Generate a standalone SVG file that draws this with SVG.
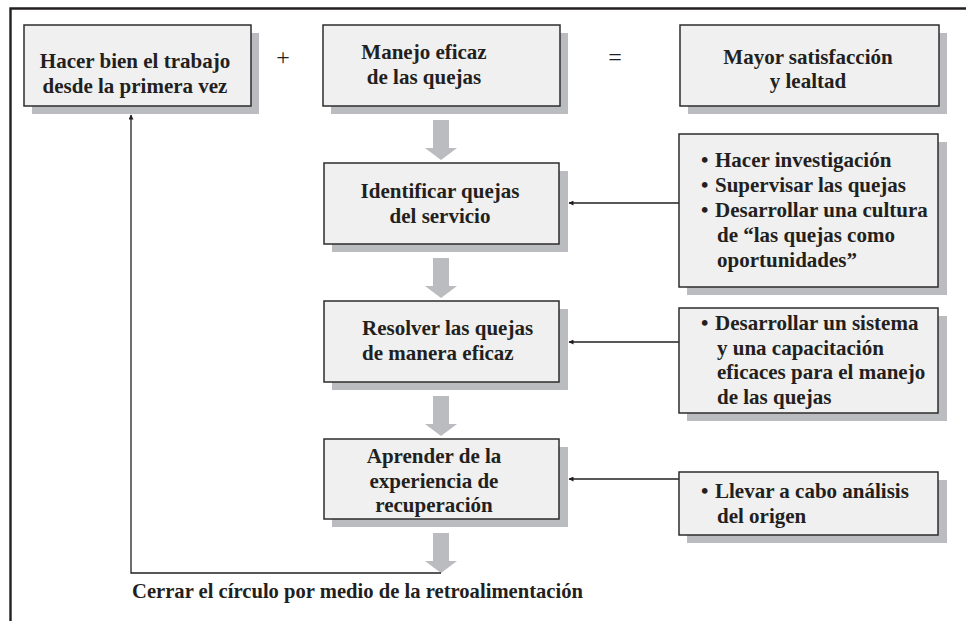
<svg xmlns="http://www.w3.org/2000/svg" width="966" height="621" viewBox="0 0 966 621">
<defs>
<style>
.box{fill:#eff0ef;stroke:#2e2c2d;stroke-width:1.5}
.sh{fill:#bbbcc0}
.t{font-family:"Liberation Serif","Times New Roman",serif;font-weight:bold;font-size:21px;fill:#231f20}
.c{text-anchor:middle}
.op{font-family:"Liberation Serif","Times New Roman",serif;font-size:24px;fill:#231f20;text-anchor:middle}
.ln{fill:none;stroke:#231f20;stroke-width:1.3}
.ga{fill:#bbbcbf}
.frame{fill:none;stroke:#231f20;stroke-width:2.4}
</style>
<marker id="ah" viewBox="0 0 10 10" refX="9" refY="5" markerWidth="7" markerHeight="5" markerUnits="userSpaceOnUse" orient="auto">
<path d="M0,0 L10,5 L0,10 z" fill="#231f20"/>
</marker>
<path id="garrow" d="M-8,0 H8 V28 H16 L0,40 L-16,28 H-8 Z"/>
</defs>
<rect width="966" height="621" fill="#ffffff"/>
<path class="frame" d="M10.5,621 V8.5 H966"/>

<g id="connectors">
<use href="#garrow" class="ga" x="441" y="120"/>
<use href="#garrow" class="ga" x="441" y="258"/>
<use href="#garrow" class="ga" x="441" y="396"/>
<use href="#garrow" class="ga" x="441" y="533"/>
<path class="ln" d="M679,203 H569" marker-end="url(#ah)"/>
<path class="ln" d="M679,342 H569" marker-end="url(#ah)"/>
<path class="ln" d="M679,479 H569" marker-end="url(#ah)"/>
<path class="ln" d="M441,573 H131 V115" marker-end="url(#ah)"/>
</g>

<g id="n1">
<rect class="sh" x="32" y="33" width="227" height="81"/>
<rect class="box" x="24" y="25" width="227" height="81"/>
<text class="t c" x="135" y="68">Hacer bien el trabajo</text>
<text class="t c" x="135" y="93">desde la primera vez</text>
</g>
<g id="plus"><text class="op" x="283" y="65">+</text></g>
<g id="n2">
<rect class="sh" x="331" y="33" width="237" height="81"/>
<rect class="box" x="323" y="25" width="237" height="81"/>
<text class="t c" x="424" y="59">Manejo eficaz</text>
<text class="t c" x="424" y="84">de las quejas</text>
</g>
<g id="eq"><text class="op" x="615" y="65">=</text></g>
<g id="n3">
<rect class="sh" x="688" y="33" width="259" height="81"/>
<rect class="box" x="680" y="25" width="259" height="81"/>
<text class="t c" x="808" y="64">Mayor satisfacción</text>
<text class="t c" x="808" y="88">y lealtad</text>
</g>

<g id="n4">
<rect class="sh" x="332" y="171" width="236" height="81"/>
<rect class="box" x="324" y="163" width="235" height="81"/>
<text class="t c" x="440" y="198">Identificar quejas</text>
<text class="t c" x="440" y="223">del servicio</text>
</g>
<g id="n5">
<rect class="sh" x="687" y="142" width="260" height="153"/>
<rect class="box" x="679" y="134" width="259" height="153"/>
<text class="t" x="701" y="167">•</text><text class="t" x="715" y="167">Hacer investigación</text>
<text class="t" x="701" y="192">•</text><text class="t" x="715" y="192">Supervisar las quejas</text>
<text class="t" x="701" y="217">•</text><text class="t" x="715" y="217">Desarrollar una cultura</text>
<text class="t" x="717" y="242">de “las quejas como</text>
<text class="t" x="717" y="267">oportunidades”</text>
</g>

<g id="n6">
<rect class="sh" x="332" y="309" width="236" height="81"/>
<rect class="box" x="324" y="301" width="235" height="81"/>
<text class="t" x="362" y="335">Resolver las quejas</text>
<text class="t" x="362" y="360">de manera eficaz</text>
</g>
<g id="n7">
<rect class="sh" x="687" y="316" width="260" height="105"/>
<rect class="box" x="679" y="308" width="259" height="105"/>
<text class="t" x="701" y="330">•</text><text class="t" x="715" y="330">Desarrollar un sistema</text>
<text class="t" x="717" y="354.5">y una capacitación</text>
<text class="t" x="717" y="379">eficaces para el manejo</text>
<text class="t" x="717" y="403.5">de las quejas</text>
</g>

<g id="n8">
<rect class="sh" x="332" y="447" width="236" height="80"/>
<rect class="box" x="324" y="439" width="235" height="80"/>
<text class="t c" x="434" y="463">Aprender de la</text>
<text class="t c" x="434" y="487.5">experiencia de</text>
<text class="t c" x="434" y="512">recuperación</text>
</g>
<g id="n9">
<rect class="sh" x="687" y="480" width="260" height="63"/>
<rect class="box" x="679" y="472" width="259" height="63"/>
<text class="t" x="701" y="498">•</text><text class="t" x="715" y="498">Llevar a cabo análisis</text>
<text class="t" x="717" y="523">del origen</text>
</g>

<g id="feedback-label">
<text class="t" x="132" y="598" textLength="451" lengthAdjust="spacingAndGlyphs">Cerrar el círculo por medio de la retroalimentación</text>
</g>
</svg>
